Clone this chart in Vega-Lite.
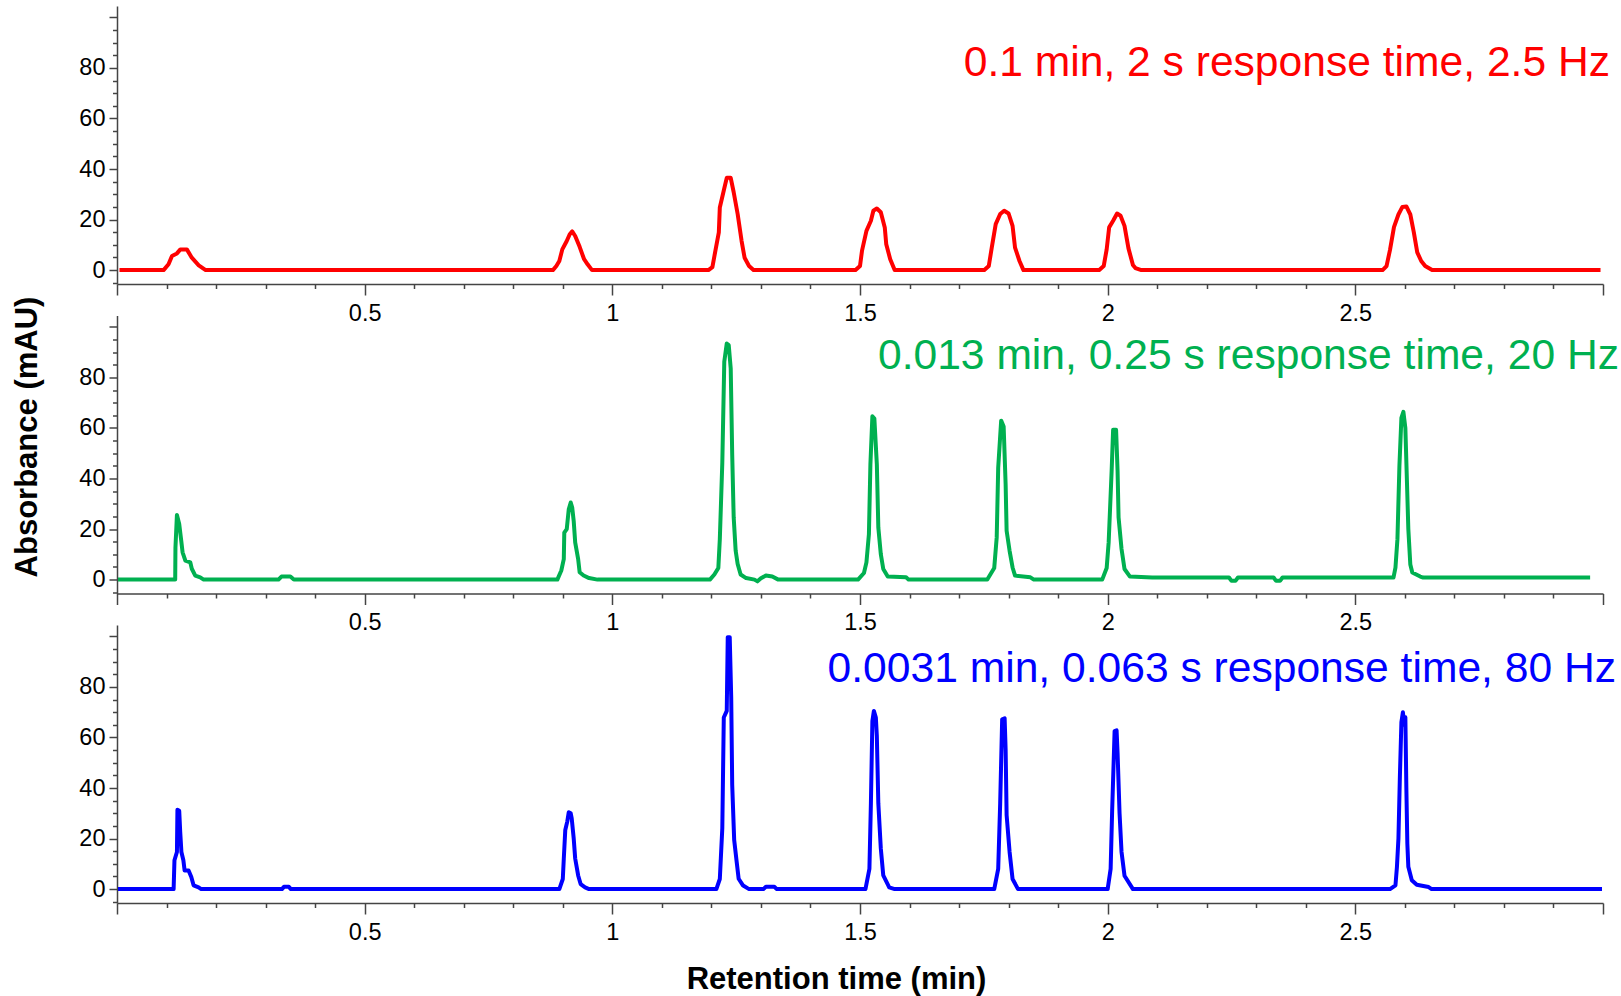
{
  "$schema": "https://vega.github.io/schema/vega-lite/v6.json",
  "padding": {"left": 10, "top": 5, "right": 3, "bottom": 3},
  "background": "white",
  "config": {
    "font": "Liberation Sans",
    "view": {"stroke": null},
    "axis": {"grid": false, "labelFont": "Liberation Sans", "labelFontSize": 23.5, "labelColor": "#000000", "domainColor": "#444444", "tickColor": "#444444", "domainWidth": 1.5, "tickWidth": 1.5, "titleFont": "Liberation Sans", "titleColor": "#000000"}
  },
  "datasets": {
    "red": [
      {"t":0.005,"v":0},{"t":0.094,"v":0},{"t":0.104,"v":2.3},{"t":0.111,"v":5.6},{"t":0.121,"v":6.6},{"t":0.128,"v":8.2},{"t":0.141,"v":8.2},{"t":0.151,"v":4.9},{"t":0.165,"v":1.9},{"t":0.179,"v":0},
      {"t":0.880,"v":0},{"t":0.887,"v":1.6},{"t":0.893,"v":3.6},{"t":0.899,"v":8.2},{"t":0.908,"v":11.5},{"t":0.914,"v":14.2},{"t":0.919,"v":15.3},{"t":0.925,"v":13.5},{"t":0.934,"v":9.2},{"t":0.943,"v":4.3},{"t":0.950,"v":2.3},{"t":0.959,"v":0},
      {"t":1.194,"v":0},{"t":1.202,"v":1.2},{"t":1.208,"v":7.6},{"t":1.215,"v":14.9},{"t":1.217,"v":24.8},{"t":1.225,"v":31.5},{"t":1.231,"v":36.5},{"t":1.239,"v":36.5},{"t":1.245,"v":30.8},{"t":1.253,"v":22.2},{"t":1.261,"v":11.5},{"t":1.267,"v":4.9},{"t":1.276,"v":1.6},{"t":1.285,"v":0},
      {"t":1.491,"v":0},{"t":1.500,"v":1.6},{"t":1.504,"v":7.6},{"t":1.513,"v":15.5},{"t":1.522,"v":19.5},{"t":1.527,"v":23.5},{"t":1.534,"v":24.4},{"t":1.542,"v":22.9},{"t":1.550,"v":16.9},{"t":1.553,"v":10.2},{"t":1.561,"v":4.3},{"t":1.570,"v":0},
      {"t":1.751,"v":0},{"t":1.760,"v":1.6},{"t":1.766,"v":8.9},{"t":1.774,"v":18.2},{"t":1.783,"v":22.2},{"t":1.791,"v":23.5},{"t":1.800,"v":22.4},{"t":1.808,"v":17.5},{"t":1.813,"v":8.9},{"t":1.822,"v":3.6},{"t":1.830,"v":0},
      {"t":1.983,"v":0},{"t":1.992,"v":1.6},{"t":1.998,"v":8.2},{"t":2.003,"v":16.9},{"t":2.011,"v":19.5},{"t":2.019,"v":22.4},{"t":2.026,"v":21.5},{"t":2.034,"v":17.5},{"t":2.042,"v":8.6},{"t":2.051,"v":2.0},{"t":2.056,"v":0.8},{"t":2.068,"v":0},
      {"t":2.555,"v":0},{"t":2.563,"v":1.6},{"t":2.570,"v":8},{"t":2.578,"v":17},{"t":2.587,"v":22},{"t":2.595,"v":25},{"t":2.603,"v":25.2},{"t":2.611,"v":22},{"t":2.618,"v":15},{"t":2.625,"v":7},{"t":2.633,"v":3.6},{"t":2.641,"v":1.6},{"t":2.655,"v":0},{"t":2.995,"v":0}
    ],
    "green": [
      {"t":0.002,"v":0},{"t":0.1175,"v":0},{"t":0.118,"v":12.7},{"t":0.121,"v":25.6},{"t":0.1256,"v":22},{"t":0.1297,"v":15.4},{"t":0.1324,"v":10.8},{"t":0.138,"v":7.5},{"t":0.148,"v":6.8},{"t":0.151,"v":4.3},{"t":0.158,"v":1.6},{"t":0.168,"v":0.9},{"t":0.175,"v":0},
      {"t":0.326,"v":0},{"t":0.332,"v":1.2},{"t":0.350,"v":1.2},{"t":0.357,"v":0},
      {"t":0.889,"v":0},{"t":0.897,"v":3.6},{"t":0.902,"v":8.1},{"t":0.903,"v":18.6},{"t":0.908,"v":20},{"t":0.912,"v":27.8},{"t":0.916,"v":30.5},{"t":0.919,"v":28.5},{"t":0.922,"v":23.2},{"t":0.925,"v":14.7},{"t":0.931,"v":8.1},{"t":0.934,"v":2.9},{"t":0.942,"v":1.6},{"t":0.953,"v":0.6},{"t":0.970,"v":0},
      {"t":1.197,"v":0},{"t":1.206,"v":2},{"t":1.214,"v":4.6},{"t":1.217,"v":16},{"t":1.222,"v":46.2},{"t":1.226,"v":86.2},{"t":1.231,"v":93.4},{"t":1.235,"v":92.8},{"t":1.239,"v":83.6},{"t":1.242,"v":49.5},{"t":1.245,"v":24.6},{"t":1.249,"v":11.4},{"t":1.253,"v":6.2},{"t":1.259,"v":2},{"t":1.270,"v":0.6},{"t":1.287,"v":0},
      {"t":1.293,"v":-0.7},{"t":1.300,"v":0.5},{"t":1.310,"v":1.6},{"t":1.323,"v":1.2},{"t":1.335,"v":0},
      {"t":1.496,"v":0},{"t":1.508,"v":2.6},{"t":1.513,"v":6.8},{"t":1.518,"v":18},{"t":1.521,"v":45.6},{"t":1.525,"v":64.6},{"t":1.529,"v":63.7},{"t":1.534,"v":45.6},{"t":1.537,"v":20.6},{"t":1.542,"v":10.1},{"t":1.547,"v":4.2},{"t":1.556,"v":1.2},{"t":1.593,"v":0.9},{"t":1.598,"v":0},
      {"t":1.757,"v":0},{"t":1.771,"v":4.6},{"t":1.776,"v":16.7},{"t":1.779,"v":44.2},{"t":1.785,"v":62.9},{"t":1.790,"v":60.6},{"t":1.794,"v":37.7},{"t":1.796,"v":19.3},{"t":1.802,"v":11.4},{"t":1.808,"v":4.8},{"t":1.813,"v":1.6},{"t":1.844,"v":0.9},{"t":1.851,"v":0},
      {"t":1.989,"v":0},{"t":1.998,"v":4.6},{"t":2.002,"v":14.7},{"t":2.008,"v":42.9},{"t":2.011,"v":59.3},{"t":2.017,"v":59.3},{"t":2.020,"v":42.9},{"t":2.022,"v":24.6},{"t":2.028,"v":12.1},{"t":2.034,"v":4.2},{"t":2.045,"v":1.2},{"t":2.090,"v":0.8},
      {"t":2.245,"v":0.8},{"t":2.250,"v":-0.5},{"t":2.258,"v":-0.5},{"t":2.263,"v":0.8},{"t":2.335,"v":0.8},{"t":2.340,"v":-0.5},{"t":2.348,"v":-0.5},{"t":2.353,"v":0.8},
      {"t":2.577,"v":0.8},{"t":2.581,"v":4.7},{"t":2.585,"v":16},{"t":2.589,"v":45},{"t":2.593,"v":64},{"t":2.597,"v":66.4},{"t":2.601,"v":60},{"t":2.604,"v":40},{"t":2.607,"v":20},{"t":2.611,"v":6},{"t":2.615,"v":2.8},{"t":2.631,"v":1.2},{"t":2.637,"v":0.8},{"t":2.974,"v":0.8}
    ],
    "blue": [
      {"t":0.002,"v":0},{"t":0.1143,"v":0},{"t":0.116,"v":11.4},{"t":0.121,"v":14.7},{"t":0.122,"v":31.4},{"t":0.1256,"v":31},{"t":0.1276,"v":22.7},{"t":0.130,"v":14.7},{"t":0.134,"v":11.4},{"t":0.1365,"v":7.4},{"t":0.1445,"v":7.4},{"t":0.150,"v":4.8},{"t":0.1546,"v":1.5},{"t":0.1647,"v":0.7},{"t":0.170,"v":0},
      {"t":0.333,"v":0},{"t":0.337,"v":0.9},{"t":0.347,"v":0.9},{"t":0.351,"v":0},
      {"t":0.893,"v":0},{"t":0.900,"v":4},{"t":0.902,"v":12},{"t":0.905,"v":23.4},{"t":0.909,"v":26.7},{"t":0.912,"v":30.4},{"t":0.916,"v":30},{"t":0.918,"v":28},{"t":0.922,"v":20.1},{"t":0.925,"v":12.1},{"t":0.931,"v":5.4},{"t":0.936,"v":2},{"t":0.945,"v":0.7},{"t":0.953,"v":0},
      {"t":1.210,"v":0},{"t":1.217,"v":4},{"t":1.222,"v":24},{"t":1.225,"v":67.9},{"t":1.231,"v":70.5},{"t":1.233,"v":99.7},{"t":1.237,"v":99.7},{"t":1.240,"v":75.8},{"t":1.242,"v":41.3},{"t":1.246,"v":19.4},{"t":1.251,"v":10.8},{"t":1.255,"v":4.1},{"t":1.264,"v":1.4},{"t":1.276,"v":0},
      {"t":1.305,"v":0},{"t":1.310,"v":0.9},{"t":1.327,"v":0.9},{"t":1.332,"v":0},
      {"t":1.511,"v":0},{"t":1.519,"v":8},{"t":1.522,"v":33.9},{"t":1.525,"v":66.5},{"t":1.528,"v":70.5},{"t":1.532,"v":67.9},{"t":1.534,"v":60.5},{"t":1.537,"v":33.9},{"t":1.542,"v":16.1},{"t":1.547,"v":5.4},{"t":1.559,"v":0.7},{"t":1.570,"v":0},
      {"t":1.771,"v":0},{"t":1.779,"v":8},{"t":1.783,"v":33.9},{"t":1.787,"v":67.2},{"t":1.792,"v":67.6},{"t":1.794,"v":55.2},{"t":1.796,"v":29.3},{"t":1.802,"v":14.7},{"t":1.808,"v":4},{"t":1.819,"v":0},
      {"t":2.000,"v":0},{"t":2.006,"v":8},{"t":2.009,"v":30.7},{"t":2.014,"v":62.5},{"t":2.018,"v":62.8},{"t":2.020,"v":53.9},{"t":2.024,"v":30},{"t":2.028,"v":14.7},{"t":2.034,"v":5.3},{"t":2.051,"v":0},
      {"t":2.570,"v":0},{"t":2.581,"v":1.5},{"t":2.584,"v":8.8},{"t":2.587,"v":20},{"t":2.590,"v":45},{"t":2.593,"v":66},{"t":2.596,"v":70},{"t":2.599,"v":65},{"t":2.601,"v":68},{"t":2.603,"v":40},{"t":2.605,"v":18},{"t":2.607,"v":8.8},{"t":2.614,"v":3.5},{"t":2.624,"v":1.7},{"t":2.648,"v":0.8},{"t":2.654,"v":0},{"t":2.998,"v":0}
    ]
  },
  "spacing": 31.5,
  "bounds": "flush",
  "vconcat": [
    {
      "width": 1486, "height": 278,
      "layer": [
        {
          "data": {"name": "red"},
          "mark": {"type": "line", "color": "#ff0000", "strokeWidth": 4, "strokeJoin": "round"},
          "encoding": {
            "x": {"field": "t", "type": "quantitative", "scale": {"domain": [0, 3], "nice": false, "zero": false},
                  "axis": {"orient": "bottom", "values": [0, 0.5, 1, 1.5, 2, 2.5, 3], "format": "~g", "labelExpr": "datum.value == 0 || datum.value == 3 ? '' : datum.label", "tickSize": 11, "labelPadding": 6, "title": null, "labelFlush": false, "labelOverlap": false}},
            "y": {"field": "v", "type": "quantitative", "scale": {"domain": [-5.5, 104.5], "nice": false, "zero": false},
                  "axis": {"orient": "left", "values": [0, 20, 40, 60, 80, 100], "labelExpr": "datum.value == 100 ? '' : datum.label", "tickSize": 8, "labelPadding": 4, "title": null, "labelFlush": false, "labelOverlap": false}}
          }
        },
        {
          "data": {"values": [{"label": "0.1 min, 2 s response time, 2.5 Hz"}]},
          "mark": {"type": "text", "color": "#ff0000", "fontSize": 42.6, "font": "Liberation Sans", "align": "right", "baseline": "alphabetic", "dx": 7},
          "encoding": {
            "text": {"field": "label"},
            "x": {"datum": 3, "type": "quantitative", "axis": {"orient": "bottom", "values": [0.1,0.2,0.3,0.4,0.6,0.7,0.8,0.9,1.1,1.2,1.3,1.4,1.6,1.7,1.8,1.9,2.1,2.2,2.3,2.4,2.6,2.7,2.8,2.9], "labels": false, "domain": false, "tickSize": 4.5, "title": null}},
            "y": {"datum": 76.9, "type": "quantitative", "axis": {"orient": "left", "values": [-5,5,10,15,25,30,35,45,50,55,65,70,75,85,90,95], "labels": false, "domain": false, "tickSize": 4.5, "title": null}}
          }
        }
      ],
      "resolve": {"axis": {"x": "independent", "y": "independent"}}
    },
    {
      "width": 1486, "height": 278,
      "layer": [
        {
          "data": {"name": "green"},
          "mark": {"type": "line", "color": "#00b050", "strokeWidth": 4, "strokeJoin": "round"},
          "encoding": {
            "x": {"field": "t", "type": "quantitative", "scale": {"domain": [0, 3], "nice": false, "zero": false},
                  "axis": {"orient": "bottom", "values": [0, 0.5, 1, 1.5, 2, 2.5, 3], "format": "~g", "labelExpr": "datum.value == 0 || datum.value == 3 ? '' : datum.label", "tickSize": 11, "labelPadding": 6, "title": null, "labelFlush": false, "labelOverlap": false}},
            "y": {"field": "v", "type": "quantitative", "scale": {"domain": [-5.5, 104.5], "nice": false, "zero": false},
                  "axis": {"orient": "left", "values": [0, 20, 40, 60, 80, 100], "labelExpr": "datum.value == 100 ? '' : datum.label", "tickSize": 8, "labelPadding": 4, "labelFlush": false, "labelOverlap": false,
                           "title": "Absorbance (mAU)", "titleFontSize": 31, "titleFontWeight": "bold", "titleX": -90, "titleY": 121, "titleBaseline": "middle", "titleAlign": "center", "titleAngle": -90}}
          }
        },
        {
          "data": {"values": [{"label": "0.013 min, 0.25 s response time, 20 Hz"}]},
          "mark": {"type": "text", "color": "#00b050", "fontSize": 42.6, "font": "Liberation Sans", "align": "right", "baseline": "alphabetic", "dx": 16},
          "encoding": {
            "text": {"field": "label"},
            "x": {"datum": 3, "type": "quantitative", "axis": {"orient": "bottom", "values": [0.1,0.2,0.3,0.4,0.6,0.7,0.8,0.9,1.1,1.2,1.3,1.4,1.6,1.7,1.8,1.9,2.1,2.2,2.3,2.4,2.6,2.7,2.8,2.9], "labels": false, "domain": false, "tickSize": 4.5, "title": null}},
            "y": {"datum": 83.5, "type": "quantitative", "axis": {"orient": "left", "values": [-5,5,10,15,25,30,35,45,50,55,65,70,75,85,90,95], "labels": false, "domain": false, "tickSize": 4.5, "title": null}}
          }
        }
      ],
      "resolve": {"axis": {"x": "independent", "y": "independent"}}
    },
    {
      "width": 1486, "height": 278,
      "layer": [
        {
          "data": {"name": "blue"},
          "mark": {"type": "line", "color": "#0000ff", "strokeWidth": 4, "strokeJoin": "round"},
          "encoding": {
            "x": {"field": "t", "type": "quantitative", "scale": {"domain": [0, 3], "nice": false, "zero": false},
                  "axis": {"orient": "bottom", "values": [0, 0.5, 1, 1.5, 2, 2.5, 3], "format": "~g", "labelExpr": "datum.value == 0 || datum.value == 3 ? '' : datum.label", "tickSize": 11, "labelPadding": 6, "labelFlush": false, "labelOverlap": false,
                           "title": "Retention time (min)", "titleFontSize": 31, "titleFontWeight": "bold", "titleX": 719, "titleY": 76, "titleBaseline": "middle", "titleAlign": "center"}},
            "y": {"field": "v", "type": "quantitative", "scale": {"domain": [-5.5, 104.5], "nice": false, "zero": false},
                  "axis": {"orient": "left", "values": [0, 20, 40, 60, 80, 100], "labelExpr": "datum.value == 100 ? '' : datum.label", "tickSize": 8, "labelPadding": 4, "title": null, "labelFlush": false, "labelOverlap": false}}
          }
        },
        {
          "data": {"values": [{"label": "0.0031 min, 0.063 s response time, 80 Hz"}]},
          "mark": {"type": "text", "color": "#0000ff", "fontSize": 42.6, "font": "Liberation Sans", "align": "right", "baseline": "alphabetic", "dx": 13},
          "encoding": {
            "text": {"field": "label"},
            "x": {"datum": 3, "type": "quantitative", "axis": {"orient": "bottom", "values": [0.1,0.2,0.3,0.4,0.6,0.7,0.8,0.9,1.1,1.2,1.3,1.4,1.6,1.7,1.8,1.9,2.1,2.2,2.3,2.4,2.6,2.7,2.8,2.9], "labels": false, "domain": false, "tickSize": 4.5, "title": null}},
            "y": {"datum": 82, "type": "quantitative", "axis": {"orient": "left", "values": [-5,5,10,15,25,30,35,45,50,55,65,70,75,85,90,95], "labels": false, "domain": false, "tickSize": 4.5, "title": null}}
          }
        }
      ],
      "resolve": {"axis": {"x": "independent", "y": "independent"}}
    }
  ]
}
